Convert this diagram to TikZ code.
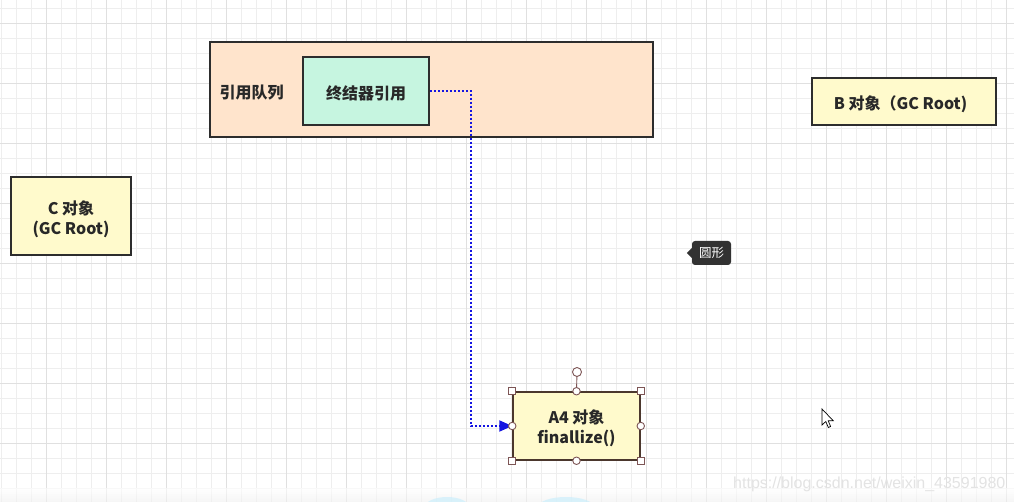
\documentclass[tikz,border=0pt]{standalone}
\usepackage{fontspec}
\setmainfont{Noto Sans CJK SC}
\newfontfamily\wmfont{Liberation Sans}
\usetikzlibrary{arrows.meta}
\definecolor{gridminor}{RGB}{238,238,238}
\definecolor{gridmajor}{RGB}{224,224,224}
\definecolor{peach}{RGB}{255,228,204}
\definecolor{mint}{RGB}{198,245,224}
\definecolor{paleyellow}{RGB}{255,250,204}
\definecolor{edge}{RGB}{45,45,45}
\definecolor{txt}{RGB}{40,40,40}
\definecolor{selbrown}{RGB}{75,55,45}
\definecolor{handle}{RGB}{125,85,85}
\definecolor{linkblue}{RGB}{20,20,225}
\definecolor{tipdark}{RGB}{50,50,50}
\begin{document}
\begin{tikzpicture}[x=1pt,y=-1pt,
  minorline/.style={draw=gridminor,line width=1pt},
  majorline/.style={draw=gridmajor,line width=1pt},
  boxbase/.style={draw=edge,line width=1.5pt,inner sep=0pt},
  queuebox/.style={boxbase,fill=peach},
  mintbox/.style={boxbase,fill=mint},
  ybox/.style={boxbase,fill=paleyellow},
  boxtext/.style={text=txt,align=center,font=\fontsize{16}{20}\selectfont\bfseries,inner sep=0pt},
  conn/.style={draw=linkblue,line width=2pt,dash pattern=on 2pt off 2pt,
    -{Triangle[length=13pt,width=11pt,fill=linkblue]}},
  sqhandle/.style={draw=handle,fill=white,line width=0.9pt,minimum size=7pt,inner sep=0pt,rectangle},
  cirhandle/.style={draw=handle,fill=white,line width=0.9pt,minimum size=7.5pt,inner sep=0pt,circle},
  tipbox/.style={fill=tipdark,rounded corners=3pt,text=white,minimum width=39pt,minimum height=24pt,
    inner sep=0pt,font=\fontsize{12.5}{14}\selectfont},
  watermark/.style={text=black!11,font=\wmfont\fontsize{16}{18}\selectfont,inner sep=0pt,anchor=west}
]
\useasboundingbox (0,0) rectangle (1014,502);
\fill[white] (0,0) rectangle (1014,502);
% grid
\foreach \x in {1.7,16.7,...,1014} \draw[minorline] (\x,0) -- (\x,502);
\foreach \y in {8.3,23.3,...,502} \draw[minorline] (0,\y) -- (1014,\y);
\foreach \x in {46.7,106.7,...,1014} \draw[majorline] (\x,0) -- (\x,502);
\foreach \y in {23.3,83.3,...,502} \draw[majorline] (0,\y) -- (1014,\y);
% bottom band and faint blue blobs
\shade[top color=white,bottom color=black!6,opacity=0.6] (0,488) rectangle (1014,502);
\fill[cyan!20,opacity=0.7] (447,507) ellipse [x radius=22,y radius=10];
\fill[cyan!20,opacity=0.7] (566,507) ellipse [x radius=28,y radius=10];

% queue container
\node[queuebox,minimum width=443pt,minimum height=95pt] (queue) at (431.5,89.5) {};
\node[boxtext] (qlabel) at (251.5,93) {引用队列};
\node[mintbox,minimum width=126pt,minimum height=68pt] (term) at (366,91) {};
\node[boxtext] (termtext) at (366,93) {终结器引用};

% GC roots
\node[ybox,minimum width=184pt,minimum height=47pt] (broot) at (903.8,101.5) {};
\node[boxtext] (broottext) at (900.5,104) {B 对象（GC Root)};
\node[ybox,minimum width=120pt,minimum height=78pt] (croot) at (71,216) {};
\node[boxtext] (croottext) at (71,219) {C 对象\\(GC Root)};

% A4 object
\node[ybox,draw=selbrown,minimum width=127pt,minimum height=68pt] (a4) at (576.5,426) {};
\node[boxtext] (a4text) at (576.5,428.5) {A4 对象\\finallize()};

% connector
\coordinate (bend) at (471,91);
\draw[conn] (term.east) -- (bend) |- (a4.west);

% selection handles
\coordinate (rot) at (577,372);
\draw[handle,line width=0.9pt] (a4.north) -- (rot);
\node[cirhandle,minimum size=9pt] (roth) at (rot) {};
\foreach \a in {north west,north east,south west,south east}
  \node[sqhandle] at (a4.\a) {};
\foreach \a in {north,south,east,west}
  \node[cirhandle] at (a4.\a) {};

% tooltip
\node[tipbox] (tip) at (711.5,253) {圆形};
\fill[tipdark] ([yshift=5pt]tip.west) -- ++(-5,5) -- ++(5,5) -- cycle;

% mouse cursor
\draw[black,fill=white,line width=0.7pt,line join=miter]
  (822,409) -- (822,425) -- (825.8,421.5) -- (828.3,427.5) -- (830.6,426.5) -- (828.2,420.7) -- (833.2,420.7) -- cycle;

% watermark
\node[watermark] (wm) at (733,484) {https://blog.csdn.net/weixin\_43591980};
\end{tikzpicture}
\end{document}
